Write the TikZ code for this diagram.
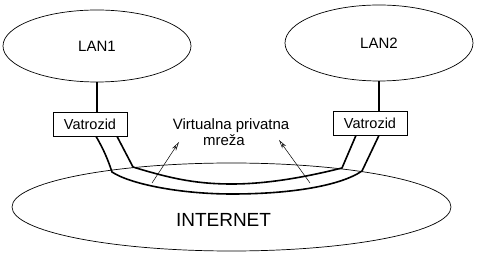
\documentclass[tikz,border=0pt]{standalone}
\usepackage{fontspec}
\setmainfont{Liberation Sans}
\usetikzlibrary{shapes.geometric,arrows.meta}
\begin{document}
\begin{tikzpicture}[x=1pt,y=-1pt,
  lan/.style={ellipse, draw, line width=0.7pt, inner sep=0pt,
    font=\fontsize{15}{18}\selectfont},
  firewall/.style={rectangle, draw, line width=0.7pt, minimum width=74pt,
    minimum height=24pt, inner sep=0pt, font=\fontsize{14.5}{17}\selectfont},
  link/.style={line width=1.8pt},
  tunnel/.style={line width=1.6pt, line join=round},
  pointer/.style={line width=0.5pt, -{Stealth[open,length=9pt,width=4.5pt]}},
  caption/.style={font=\fontsize{15}{18}\selectfont, inner sep=0pt, anchor=base}]
\useasboundingbox (0,0) rectangle (484,253);

% local networks and the internet cloud
\node[lan, minimum width=188pt, minimum height=72pt] (lan1) at (97,46) {LAN1};
\node[lan, minimum width=188pt, minimum height=76pt] (lan2) at (379,43) {LAN2};
\node[lan, minimum width=439pt, minimum height=88pt] (internet) at (231.5,207) {};
\node[caption, font=\fontsize{19}{22}\selectfont] (internetlabel) at (223.5,227) {INTERNET};

% firewalls
\node[firewall] (fw1) at (90,124) {Vatrozid};
\node[firewall] (fw2) at (370,123) {Vatrozid};

\draw[link] (lan1.south) -- (lan1.south |- fw1.north);
\draw[link] (lan2.south) -- (lan2.south |- fw2.north);

% VPN tunnel between the firewalls
\draw[tunnel] ([xshift=6pt]fw1.south) .. controls (104,150) and (108,160) .. (112,172)
  .. controls (130,184) and (180,194) .. (232,194)
  .. controls (290,194) and (340,186) .. (362,171) -- ([xshift=9pt]fw2.south);
\draw[tunnel] ([xshift=27pt]fw1.south) -- (133,167)
  .. controls (175,180) and (200,184) .. (232,184)
  .. controls (270,184) and (310,176) .. (342,168) -- ([xshift=-14pt]fw2.south);

% caption with pointers into the tunnel
\node[caption] (vpn1) at (231,130) {Virtualna privatna};
\node[caption] (vpn2) at (224,145.5) {mreža};
\coordinate (tailL) at (152,183);
\coordinate (headL) at (179,142);
\coordinate (tailR) at (310,183);
\coordinate (headR) at (279,140);
\draw[pointer] (tailL) -- (headL);
\draw[pointer] (tailR) -- (headR);
\end{tikzpicture}
\end{document}
